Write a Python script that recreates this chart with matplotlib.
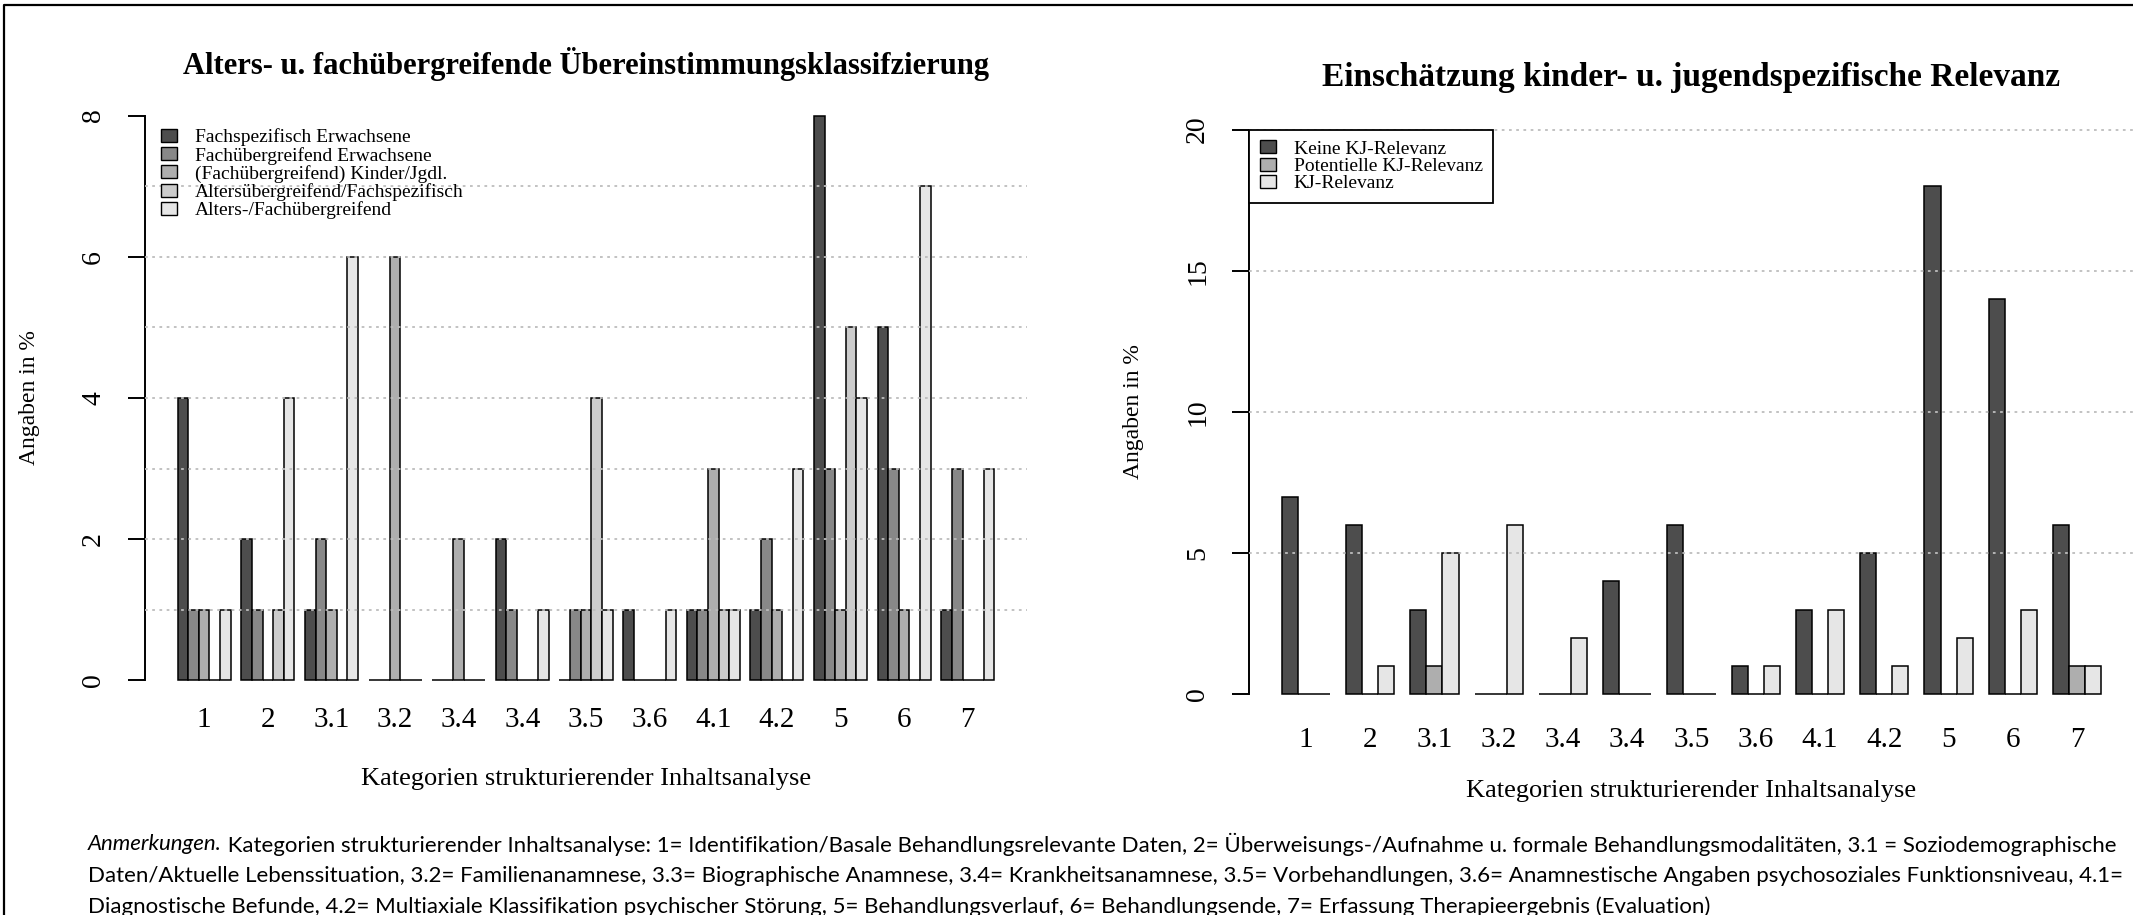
import matplotlib
matplotlib.use("Agg")
import matplotlib.pyplot as plt
from matplotlib.patches import Patch
import numpy as np

# categories of the content analysis (same for both panels)
categories = ["1", "2", "3.1", "3.2", "3.4", "3.4", "3.5", "3.6", "4.1", "4.2", "5", "6", "7"]

# left panel: agreement classification (in %)
left_labels = ["Fachspezifisch Erwachsene", "Fachübergreifend Erwachsene",
               "(Fachübergreifend) Kinder/Jgdl.", "Altersübergreifend/Fachspezifisch",
               "Alters-/Fachübergreifend"]
fach_erw = [4, 2, 1, 0, 0, 2, 0, 1, 1, 1, 8, 5, 1]
fachueb_erw = [1, 1, 2, 0, 0, 1, 1, 0, 1, 2, 3, 3, 3]
kinder_jgdl = [1, 0, 1, 6, 2, 0, 1, 0, 3, 1, 1, 1, 0]
alters_fach = [0, 1, 0, 0, 0, 0, 4, 0, 1, 0, 5, 0, 0]
alters_fachueb = [1, 4, 6, 0, 0, 1, 1, 1, 1, 3, 4, 7, 3]
left_colors = ["#4D4D4D", "#888888", "#AEAEAE", "#CCCCCC", "#E6E6E6"]

# right panel: child/adolescent relevance (in %)
right_labels = ["Keine KJ-Relevanz", "Potentielle KJ-Relevanz", "KJ-Relevanz"]
keine_kj = [7, 6, 3, 0, 0, 4, 6, 1, 3, 5, 18, 14, 6]
potentiell_kj = [0, 0, 1, 0, 0, 0, 0, 0, 0, 0, 0, 0, 1]
kj_relevanz = [0, 1, 5, 6, 2, 0, 0, 1, 3, 1, 2, 3, 1]
right_colors = ["#4D4D4D", "#AEAEAE", "#E6E6E6"]

note_lines = [
    " Kategorien strukturierender Inhaltsanalyse: 1= Identifikation/Basale Behandlungsrelevante Daten, "
    "2= Überweisungs-/Aufnahme u. formale Behandlungsmodalitäten, 3.1 = Soziodemographische",
    "Daten/Aktuelle Lebenssituation, 3.2= Familienanamnese, 3.3= Biographische Anamnese, 3.4= Krankheitsanamnese, "
    "3.5= Vorbehandlungen, 3.6= Anamnestische Angaben psychosoziales Funktionsniveau, 4.1=",
    "Diagnostische Befunde, 4.2= Multiaxiale Klassifikation psychischer Störung, 5= Behandlungsverlauf, "
    "6= Behandlungsende, 7= Erfassung Therapieergebnis (Evaluation)",
]

SERIF = "Liberation Serif"
W, H = 2133, 915
fig = plt.figure(figsize=(W / 100, H / 100), dpi=100)


def px_axes(x0, x1, y0, y1):
    return fig.add_axes([x0 / W, 1 - y1 / H, (x1 - x0) / W, (y1 - y0) / H])


def grouped_bars(ax, series, colors, labels, ymax, grid, yticks, title, title_fs,
                 label_pad, xlabel_off, leg_kw):
    n = len(series)
    step = n + 1
    ng = len(categories)
    lo, hi = 1, ng * step
    pad = 0.04 * (hi - lo)
    ax.set_xlim(lo - pad, hi + pad)
    ax.set_ylim(-0.04 * ymax, 1.04 * ymax)
    g = np.arange(ng)
    for s, (vals, col) in enumerate(zip(series, colors)):
        ax.bar(g * step + 1 + s, vals, width=1, align="edge", color=col,
               edgecolor="black", linewidth=1.1, zorder=2)
    for yv in grid:
        ax.axhline(yv, color="#BDBDBD", lw=1.3, ls=(0, (1.5, 2.5)), zorder=3)
    for side in ["top", "right", "bottom"]:
        ax.spines[side].set_visible(False)
    ax.spines["left"].set_bounds(0, ymax)
    ax.spines["left"].set_linewidth(1.4)
    ax.set_yticks(yticks)
    ax.set_yticklabels([str(v) for v in yticks], rotation=90, va="center",
                       fontsize=20, family=SERIF)
    ax.tick_params(axis="y", length=12, width=1.4, pad=16)
    ax.set_xticks(g * step + 1 + n / 2)
    ax.set_xticklabels(categories, fontsize=21, family=SERIF)
    ax.tick_params(axis="x", length=0, pad=label_pad)
    ax.set_xlabel("Kategorien strukturierender Inhaltsanalyse", fontsize=19, family=SERIF)
    ax.xaxis.set_label_coords(0.5, xlabel_off)
    ax.xaxis.label.set_va("center")
    ax.set_ylabel("Angaben in %", fontsize=17, family=SERIF)
    ax.yaxis.set_label_coords(-0.131, 0.5)
    ax.yaxis.label.set_va("center")
    ax.text(0.5, 1.048, title, transform=ax.transAxes, ha="center", va="center",
            fontsize=title_fs, fontweight="bold", family=SERIF)
    handles = [Patch(facecolor=c, edgecolor="black", linewidth=1.0) for c in colors]
    leg = ax.legend(handles, labels, prop={"family": SERIF, "size": 14},
                    handlelength=0.85, handleheight=0.65, handletextpad=0.9,
                    borderaxespad=0, **leg_kw)
    return leg


ax_l = px_axes(145, 1027, 93, 703)
leg_l = grouped_bars(
    ax_l, [fach_erw, fachueb_erw, kinder_jgdl, alters_fach, alters_fachueb],
    left_colors, left_labels, 8, range(1, 8), [0, 2, 4, 6, 8],
    "Alters- u. fachübergreifende Übereinstimmungsklassifzierung", 22,
    3, -0.125,
    dict(loc="upper left", bbox_to_anchor=(0.018, 0.942), frameon=False,
         borderpad=0, labelspacing=0.02))

ax_r = px_axes(1249, 2134, 107, 717)
leg_r = grouped_bars(
    ax_r, [keine_kj, potentiell_kj, kj_relevanz],
    right_colors, right_labels, 20, [5, 10, 15, 20], [0, 5, 10, 15, 20],
    "Einschätzung kinder- u. jugendspezifische Relevanz", 24,
    7, -0.121,
    dict(loc="upper left", bbox_to_anchor=(0.0, 20.8 / 21.6), frameon=True,
         fancybox=False, borderpad=0.55, edgecolor="black", framealpha=1,
         labelspacing=0.0))
leg_r.get_frame().set_linewidth(1.3)
leg_r.set_zorder(5)

# outer frame of the picture (left and top edge only, the rest is cropped)
fig.add_artist(plt.Line2D([4 / W, 4 / W, 1], [0, 1 - 5 / H, 1 - 5 / H],
                          transform=fig.transFigure, color="black", lw=1.6))

# footnote, width fitted to the first line
NOTE_FONT = "Lato"
x0 = 88 / W
ys = [844, 876, 907]
fig.canvas.draw()
rend = fig.canvas.get_renderer()
probe_i = fig.text(0, 0, "Anmerkungen.", style="italic", fontsize=16, family=NOTE_FONT)
probe_r = fig.text(0, 0, note_lines[0], fontsize=16, family=NOTE_FONT)
wtot = probe_i.get_window_extent(rend).width + probe_r.get_window_extent(rend).width
fs = 16 * (2120 - 88) / wtot
probe_i.remove()
probe_r.remove()

t_i = fig.text(x0, 1 - ys[0] / H, "Anmerkungen.", style="italic", fontsize=fs,
               family=NOTE_FONT, va="center")
fig.canvas.draw()
wi = t_i.get_window_extent(rend).width
fig.text(x0 + wi / W, 1 - ys[0] / H, note_lines[0], fontsize=fs, family=NOTE_FONT, va="center")
for line, y in zip(note_lines[1:], ys[1:]):
    fig.text(x0, 1 - y / H, line, fontsize=fs, family=NOTE_FONT, va="center")

fig.savefig("out.png", dpi=100)
